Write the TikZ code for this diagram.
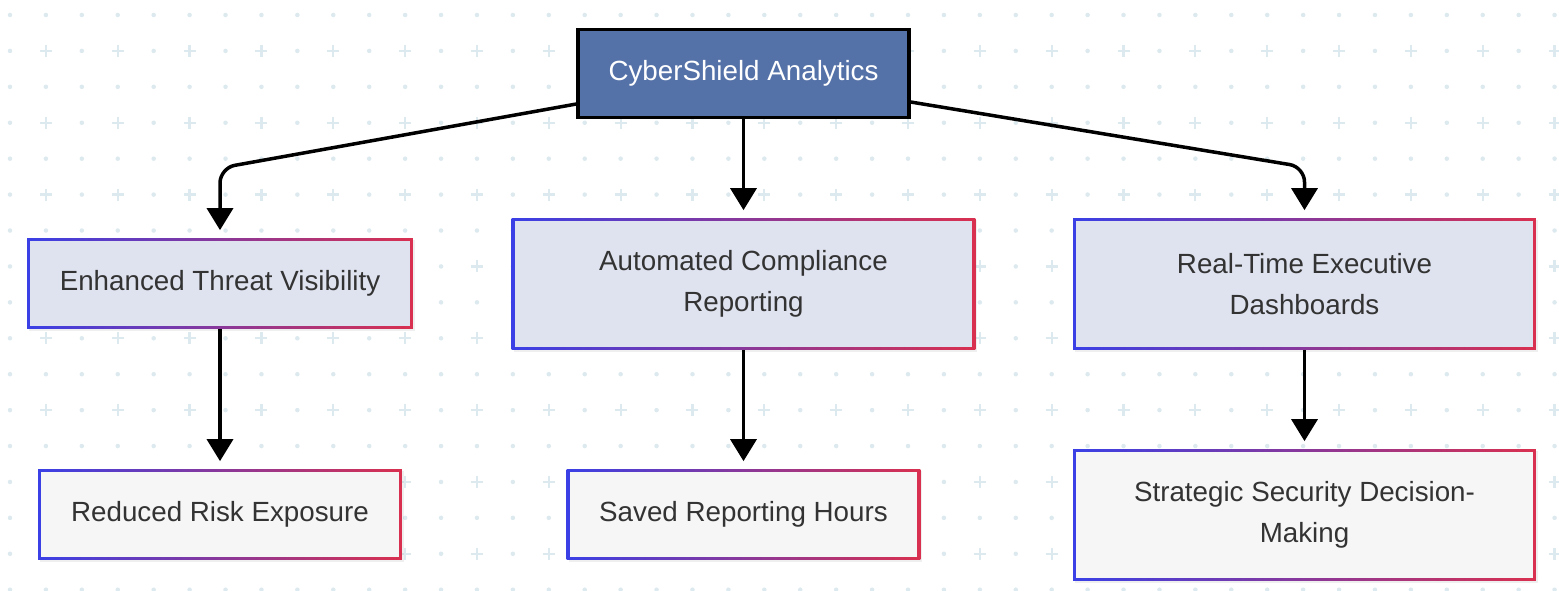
\documentclass[tikz,border=0pt]{standalone}
\usepackage{fontspec}
\setmainfont{Liberation Sans}
\usetikzlibrary{arrows.meta,shadows}
\definecolor{bgdot}{HTML}{DCE9EE}
\definecolor{bordL}{HTML}{3A40E6}
\definecolor{bordR}{HTML}{D9304F}
\definecolor{midfill}{HTML}{DFE3EF}
\definecolor{lowfill}{HTML}{F6F6F6}
\definecolor{topfill}{HTML}{5471A8}
\definecolor{txtgray}{HTML}{333333}

\begin{document}
\begin{tikzpicture}[x=0.02cm,y=-0.02cm,
    gbox/.style={inner sep=0pt,align=center,text=txtgray,font=\fontsize{15.8}{23.2}\selectfont,
        left color=bordL,right color=bordR,
        drop shadow={opacity=0.12,shadow xshift=0.04cm,shadow yshift=-0.04cm},
        path picture={\fill[#1] ([xshift=0.065cm,yshift=-0.065cm]path picture bounding box.north west) rectangle ([xshift=-0.065cm,yshift=0.065cm]path picture bounding box.south east);}},
    topbox/.style={inner sep=0pt,align=center,text=white,font=\fontsize{15.8}{23.2}\selectfont,
        fill=topfill,draw=black,line width=0.065cm,
        drop shadow={opacity=0.12,shadow xshift=0.04cm,shadow yshift=-0.04cm}},
    conn/.style={line width=0.07cm,rounded corners=0.3cm,shorten >=0.15cm,
        -{Triangle[width=0.52cm,length=0.44cm]}}]
            \useasboundingbox (0,0) rectangle (1559,591);
            \fill[white] (0,0) rectangle (1559,591);
            \foreach \j in {0,2,...,16}
                \foreach \i in {0,...,43}
                    \fill[bgdot] (10+35.92*\i,15+35.92*\j) circle (0.045cm);
            \foreach \j in {1,3,...,15} {
                \foreach \i in {0,2,...,42}
                    \fill[bgdot] (10+35.92*\i,15+35.92*\j) circle (0.045cm);
                \foreach \i in {1,3,...,43}
                    \draw[bgdot,line width=0.045cm] (10+35.92*\i,15+35.92*\j)+(-6,0)--+(6,0) (10+35.92*\i,15+35.92*\j)+(0,-6)--+(0,6);
            }
            \node (cyber) at (743.5,73.5)[topbox,minimum width=6.62cm,minimum height=1.76cm]{CyberShield Analytics};
            \node (etv) at (220,283.5)[gbox=midfill,minimum width=7.72cm,minimum height=1.82cm]{Enhanced Threat Visibility};
            \node (acr) at (743.5,284)[gbox=midfill,minimum width=9.28cm,minimum height=2.64cm]{Automated Compliance\\Reporting};
            \node (rtd) at (1304.5,284)[gbox=midfill,minimum width=9.26cm,minimum height=2.64cm]{Real-Time Executive\\Dashboards};
            \node (rre) at (220,514.5)[gbox=lowfill,minimum width=7.28cm,minimum height=1.82cm]{Reduced Risk Exposure};
            \node (sav) at (743.5,514.5)[gbox=lowfill,minimum width=7.08cm,minimum height=1.82cm]{Saved Reporting Hours};
            \node (ssd) at (1304.5,515)[gbox=lowfill,minimum width=9.26cm,minimum height=2.64cm]{Strategic Security Decision-\\Making};
            \coordinate (bendL) at (220,168);
            \coordinate (bendR) at (1304.5,167);
            \draw[conn] ([yshift=-0.61cm]cyber.west)--(bendL)--(etv);
            \draw[conn] (cyber)--(acr);
            \draw[conn] ([yshift=-0.57cm]cyber.east)--(bendR)--(rtd);
            \draw[conn] (etv)--(rre);
            \draw[conn] (acr)--(sav);
            \draw[conn] (rtd)--(ssd);
        \end{tikzpicture}
\end{document}
